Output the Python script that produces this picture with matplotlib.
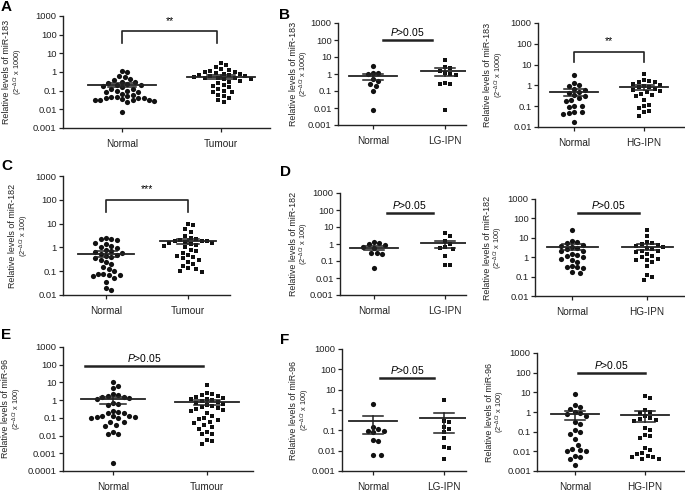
import numpy as np
import matplotlib
matplotlib.use("Agg")
import matplotlib.pyplot as plt
from matplotlib.ticker import NullLocator

plt.rcParams["font.family"] = ["Liberation Sans", "DejaVu Sans"]
plt.rcParams["mathtext.fontset"] = "custom"
plt.rcParams["mathtext.rm"] = "Liberation Sans"
plt.rcParams["mathtext.it"] = "Liberation Sans:italic"

W, H = 685, 491

# *** values ***
# miR-183, tumour vs normal (A)
a_normal = [1.1, 1.0, 0.6, 0.55, 0.4, 0.38, 0.3, 0.28, 0.25, 0.22, 0.2, 0.2, 0.18, 0.15,
            0.13, 0.12, 0.1, 0.1, 0.09, 0.08, 0.07, 0.06, 0.05, 0.047, 0.045, 0.043, 0.04,
            0.04, 0.035, 0.033, 0.03, 0.03, 0.03, 0.028, 0.025, 0.007]
a_tumour = [3.2, 2.5, 1.8, 1.5, 1.3, 1.2, 1.0, 1.0, 0.9, 0.8, 0.75, 0.7, 0.65, 0.6, 0.6,
            0.55, 0.5, 0.5, 0.45, 0.4, 0.4, 0.35, 0.3, 0.25, 0.2, 0.18, 0.15, 0.12, 0.1,
            0.09, 0.08, 0.06, 0.05, 0.04, 0.03, 0.025]
# miR-183, LG-IPN / HG-IPN (B)
b1_normal = [2.8, 1.2, 1.1, 1.0, 0.5, 0.4, 0.25, 0.2, 0.1, 0.008]
b1_lg = [6.5, 2.5, 2.2, 1.5, 1.2, 1.0, 0.9, 0.3, 0.25, 0.25, 0.008]
b2_normal = [3.3, 1.3, 1.0, 0.9, 0.7, 0.6, 0.5, 0.45, 0.35, 0.3, 0.25, 0.2, 0.18, 0.1,
             0.1, 0.09, 0.05, 0.05, 0.045, 0.04, 0.017]
b2_hg = [3.6, 1.8, 1.6, 1.5, 1.4, 1.2, 1.0, 0.9, 0.85, 0.8, 0.7, 0.6, 0.55, 0.5, 0.4,
         0.35, 0.3, 0.2, 0.12, 0.1, 0.08, 0.06, 0.055, 0.035]
# miR-182 (C, D)
c_normal = [2.5, 2.3, 2.2, 2.0, 1.6, 1.4, 1.2, 1.0, 0.9, 0.8, 0.7, 0.65, 0.6, 0.55, 0.5,
            0.45, 0.4, 0.35, 0.3, 0.25, 0.2, 0.15, 0.12, 0.1, 0.08, 0.075, 0.07, 0.07,
            0.06, 0.05, 0.035, 0.02, 0.016]
c_tumour = [9.5, 8.5, 6.0, 4.5, 3.0, 2.5, 2.2, 2.0, 1.9, 1.8, 1.8, 1.7, 1.6, 1.5, 1.4,
            1.3, 1.2, 1.0, 0.8, 0.7, 0.6, 0.5, 0.45, 0.4, 0.35, 0.3, 0.25, 0.2, 0.16,
            0.14, 0.12, 0.1, 0.09]
d1_normal = [1.3, 1.1, 1.0, 0.9, 0.7, 0.6, 0.3, 0.28, 0.25, 0.04]
d1_lg = [4.5, 2.8, 1.5, 1.0, 0.7, 0.6, 0.5, 0.2, 0.06, 0.055]
d2_normal = [25, 7, 6, 5.5, 4.5, 4, 3.5, 3, 2.5, 2.2, 2, 1.5, 1.3, 1.2, 1, 0.8, 0.7, 0.6,
             0.35, 0.3, 0.3, 0.28, 0.18, 0.16]
d2_hg = [25, 13, 6, 5.5, 5, 4.5, 4, 3.5, 3, 2.5, 2.2, 2, 1.8, 1.5, 1.2, 1.0, 0.8, 0.7,
         0.7, 0.6, 0.35, 0.12, 0.1, 0.065]
# miR-96 (E, F)
e_normal = [11, 6, 5, 2.2, 2, 1.8, 1.6, 1.5, 1.3, 1.2, 0.7, 0.6, 0.5, 0.25, 0.22, 0.2,
            0.18, 0.12, 0.12, 0.12, 0.11, 0.11, 0.1, 0.1, 0.06, 0.06, 0.04, 0.035, 0.015,
            0.013, 0.012, 0.0003]
e_tumour = [7, 2.5, 2.2, 2, 1.8, 1.5, 1.3, 1.2, 1.1, 1.0, 0.9, 0.8, 0.7, 0.6, 0.5, 0.45,
            0.4, 0.35, 0.3, 0.28, 0.25, 0.2, 0.12, 0.1, 0.09, 0.08, 0.06, 0.05, 0.04,
            0.03, 0.025, 0.015, 0.013, 0.012, 0.006, 0.005, 0.0035]
f1_normal = [1.9, 0.15, 0.12, 0.09, 0.09, 0.08, 0.035, 0.03, 0.006, 0.006]
f1_lg = [3.0, 0.3, 0.25, 0.15, 0.12, 0.08, 0.04, 0.015, 0.013, 0.004]
f2_normal = [8, 2.4, 1.8, 1.5, 1.0, 0.9, 0.8, 0.6, 0.3, 0.25, 0.12, 0.1, 0.08, 0.04,
             0.022, 0.013, 0.012, 0.011, 0.01, 0.006, 0.005, 0.004, 0.002]
f2_hg = [6.5, 5, 1.2, 1.0, 0.9, 0.6, 0.5, 0.45, 0.4, 0.35, 0.15, 0.12, 0.07, 0.06, 0.05,
         0.015, 0.012, 0.008, 0.007, 0.006, 0.005, 0.005, 0.004, 0.004]

# mean and (lower, upper) SEM bounds per group
means = {
    "A": [0.2, 0.55], "B1": [0.75, 1.5], "B2": [0.5, 0.8],
    "C": [0.55, 1.8], "D1": [0.6, 1.1], "D2": [3.5, 3.5],
    "E": [1.1, 0.75], "F1": [0.28, 0.4], "F2": [0.75, 0.7],
}
sems = {
    "A": [(0.15, 0.25), (0.42, 0.7)], "B1": [(0.45, 1.05), (0.8, 2.2)],
    "B2": [(0.32, 0.68), (0.6, 1.0)], "C": [(0.4, 0.72), (1.4, 2.2)],
    "D1": [(0.45, 0.78), (0.6, 1.6)], "D2": [(2.3, 4.8), (2.4, 4.7)],
    "E": [(0.6, 1.5), (0.55, 1.0)], "F1": [(0.065, 0.48), (0.07, 0.72)],
    "F2": [(0.38, 1.15), (0.32, 1.1)],
}

cats_tumour = ["Normal", "Tumour"]
cats_lg = ["Normal", "LG-IPN"]
cats_hg = ["Normal", "HG-IPN"]


def swarm_x(ax, xc, vals, d=5.4):
    vals = np.asarray(vals, float)
    xy = ax.transData.transform(np.column_stack([np.full(len(vals), xc), vals]))
    x0 = xy[0, 0]
    done = []
    xs = np.empty(len(vals))
    for i in np.argsort(vals)[::-1]:
        y = xy[i, 1]
        for k in range(300):
            off = ((k + 1) // 2) * d / 2 * (1 if k % 2 else -1)
            if all((x0 + off - qx) ** 2 + (y - qy) ** 2 >= d * d for qx, qy in done):
                break
        done.append((x0 + off, y))
        xs[i] = x0 + off
    return ax.transData.inverted().transform(np.column_stack([xs, xy[:, 1]]))[:, 0]


def panel(fig, key, box, centers, ylo, cats, groups, mir, scale,
          sig=None, lab_x=None, letter=None):
    L, T, R, B = box
    c1, c2 = centers
    unit = c2 - c1
    ax = fig.add_axes([L / W, 1 - B / H, (R - L) / W, (B - T) / H])
    ax.set_yscale("log")
    ax.set_ylim(ylo, 1000)
    ax.set_xlim(1 - (c1 - L) / unit, 2 + (R - c2) / unit)
    decs = [10.0 ** k for k in range(int(round(np.log10(ylo))), 4)]
    ax.set_yticks(decs)
    ax.set_yticklabels([f"{v:g}" for v in decs])
    ax.yaxis.set_minor_locator(NullLocator())
    ax.set_xticks([1, 2])
    ax.set_xticklabels(cats)
    for s in ("top", "right"):
        ax.spines[s].set_visible(False)
    for s in ("left", "bottom"):
        ax.spines[s].set_linewidth(1.0)
        ax.spines[s].set_color("#222222")
    ax.tick_params(axis="y", length=3, width=0.9, labelsize=6.8, pad=1.5, colors="#222222")
    ax.tick_params(axis="x", length=3, width=0.9, labelsize=7.2, pad=5, colors="#222222")

    half = 0.34
    cap = 0.14
    for j, (vals, mk) in enumerate(zip(groups, ["o", "s"])):
        xc = j + 1
        xs = swarm_x(ax, xc, vals)
        ax.scatter(xs, vals, s=14 if mk == "o" else 12, marker=mk, color="#111111",
                   linewidths=0, zorder=3)
        m = means[key][j]
        lo, hi = sems[key][j]
        ax.plot([xc - half, xc + half], [m, m], color="#222222", lw=1.3, zorder=4)
        ax.plot([xc, xc], [lo, hi], color="#222222", lw=1.1, zorder=4)
        ax.plot([xc - cap, xc + cap], [lo, lo], color="#222222", lw=1.1, zorder=4)
        ax.plot([xc - cap, xc + cap], [hi, hi], color="#222222", lw=1.1, zorder=4)

    if sig is not None:
        kind, txt, x1, x2, top, leg = sig
        if kind == "bracket":
            ax.plot([x1, x1, x2, x2], [leg, top, top, leg], color="#222222", lw=1.2)
            ax.annotate(txt, ((x1 + x2) / 2, top), xytext=(0, 4), textcoords="offset points",
                        ha="center", va="bottom", fontsize=7.5)
        else:
            ax.plot([x1, x2], [top, top], color="#222222", lw=1.8)
            ax.annotate(txt, ((x1 + x2) / 2, top), xytext=(0, 1.5), textcoords="offset points",
                        ha="center", va="bottom", fontsize=7.5)

    yc = 1 - (T + B) / 2 / H
    fig.text((lab_x - 2) / W, yc, f"Relative levels of {mir}", rotation=90,
             ha="center", va="center", fontsize=6.4, color="#222222")
    fig.text((lab_x + 9) / W, yc, r"(2$^{-\Delta Ct}$ x " + scale + ")", rotation=90,
             ha="center", va="center", fontsize=5.3, color="#222222")
    if letter is not None:
        lx, ly, lt = letter
        fig.text(lx / W, 1 - ly / H, lt, fontsize=11, fontweight="bold",
                 ha="left", va="top")
    return ax


def main():
    fig = plt.figure(figsize=(W / 100, H / 100), dpi=100)
    pv = "$P$>0.05"

    panel(fig, "A", (63, 16, 270, 128), (122, 221), 1e-3, cats_tumour,
          [a_normal, a_tumour], "miR-183", "1000",
          sig=("bracket", "**", 1, 1.96, 150, 38), lab_x=9, letter=(1, 0, "A"))
    panel(fig, "B1", (338, 23, 466, 125), (373, 445), 1e-3, cats_lg,
          [b1_normal, b1_lg], "miR-183", "1000",
          sig=("line", pv, 1.14, 1.82, 100, None), lab_x=295, letter=(279, 8, "B"))
    panel(fig, "B2", (538, 23, 684, 127), (574, 644), 1e-2, cats_hg,
          [b2_normal, b2_hg], "miR-183", "1000",
          sig=("bracket", "**", 1, 2, 40, 13), lab_x=490)

    panel(fig, "C", (63, 176, 230, 295), (106, 188), 1e-2, cats_tumour,
          [c_normal, c_tumour], "miR-182", "100",
          sig=("bracket", "***", 1, 2, 100, 30), lab_x=15, letter=(1, 159, "C"))
    panel(fig, "D1", (340, 193, 466, 295), (374, 445), 1e-3, cats_lg,
          [d1_normal, d1_lg], "miR-182", "100",
          sig=("line", pv, 1.18, 1.83, 66, None), lab_x=295, letter=(280, 165, "D"))
    panel(fig, "D2", (535, 199, 684, 296), (572, 647), 1e-2, cats_hg,
          [d2_normal, d2_hg], "miR-182", "100",
          sig=("line", pv, 1.08, 1.89, 190, None), lab_x=489)

    panel(fig, "E", (63, 347, 253, 471), (113, 207), 1e-4, cats_tumour,
          [e_normal, e_tumour], "miR-96", "100",
          sig=("line", pv, 0.70, 1.96, 88, None), lab_x=8, letter=(1, 328, "E"))
    panel(fig, "F1", (342, 349, 466, 471), (373, 444), 1e-3, cats_lg,
          [f1_normal, f1_lg], "miR-96", "100",
          sig=("line", pv, 1.10, 1.86, 36, None), lab_x=296, letter=(280, 333, "F"))
    panel(fig, "F2", (537, 353, 684, 471), (575, 645), 1e-3, cats_hg,
          [f2_normal, f2_hg], "miR-96", "100",
          sig=("line", pv, 1.04, 2.0, 100, None), lab_x=491)

    fig.savefig("out.png", dpi=100)


if __name__ == "__main__":
    main()
